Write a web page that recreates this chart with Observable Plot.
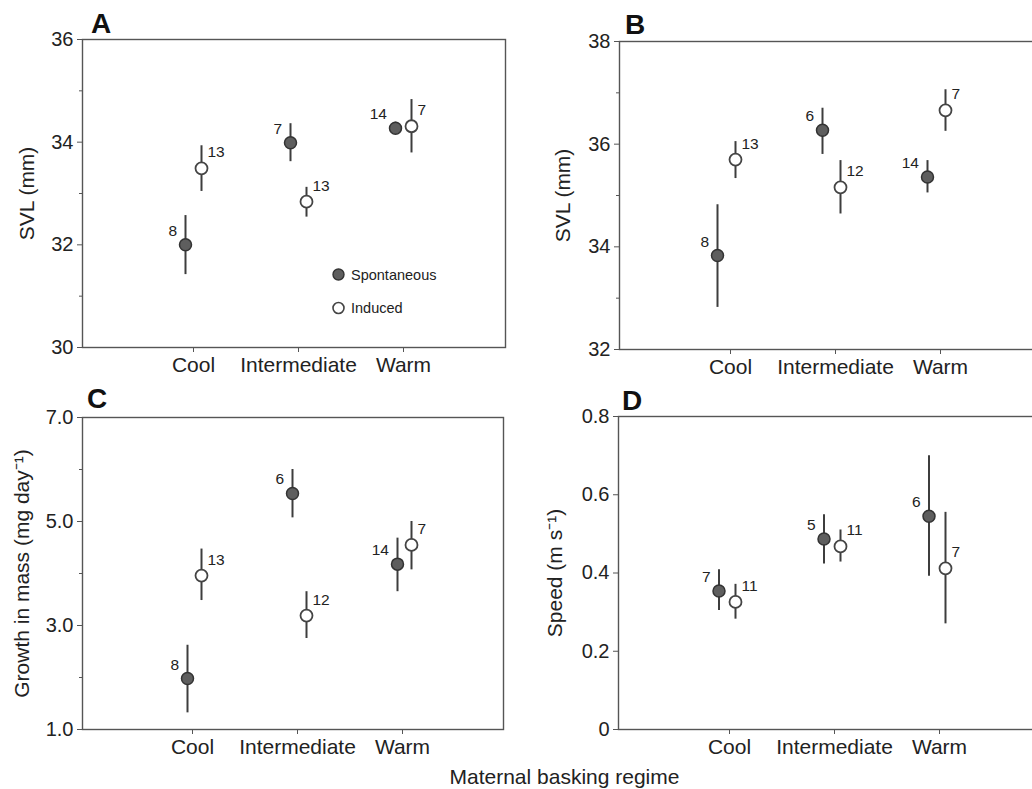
<!DOCTYPE html>
<html>
<head>
<meta charset="utf-8">
<script src="https://cdn.jsdelivr.net/npm/d3@7"></script>
<script src="https://cdn.jsdelivr.net/npm/@observablehq/plot@0.6"></script>
<style>
  html, body { margin: 0; padding: 0; background: #fff; }
  #wrap { position: relative; width: 1032px; height: 789px; overflow: hidden; background: #fff;
          font-family: "Liberation Sans", Arial, Helvetica, sans-serif; color: #222; }
  .pane { position: absolute; width: 520px; }
  .pane svg { max-width: none; display: block; }
  #overlay { position: absolute; left: 0; top: 0; pointer-events: none; }
</style>
</head>
<body>
<div id="wrap">
  <div class="pane" id="pA" style="left:0px; top:0px;"></div>
  <div class="pane" id="pB" style="left:537px; top:2px;"></div>
  <div class="pane" id="pC" style="left:0px; top:378px;"></div>
  <div class="pane" id="pD" style="left:536px; top:377px;"></div>
  <svg id="overlay" width="1032" height="789"
       font-family='"Liberation Sans", Arial, Helvetica, sans-serif' fill="#222">
    <text x="91" y="33" font-size="28" font-weight="bold" fill="#111">A</text>
    <text x="625" y="34" font-size="28" font-weight="bold" fill="#111">B</text>
    <text x="87" y="408" font-size="28" font-weight="bold" fill="#111">C</text>
    <text x="622" y="410" font-size="28" font-weight="bold" fill="#111">D</text>
    <circle cx="338.5" cy="274.5" r="5.5" fill="#5e5e5e" stroke="#333" stroke-width="1.4"></circle>
    <text x="351" y="279.5" font-size="14.5">Spontaneous</text>
    <circle cx="338.5" cy="308" r="5.5" fill="#fff" stroke="#444" stroke-width="1.6"></circle>
    <text x="351" y="313" font-size="14.5">Induced</text>
    <text x="564.5" y="784" font-size="21" text-anchor="middle">Maternal basking regime</text>
  </svg>
</div>
<script>
// ---- categories ----
const regimes = ["Cool", "Intermediate", "Warm"];
const groups = ["Spontaneous", "Induced"];

// ---- Panel A: SVL (mm) ----
const A_spont_mean = [32.00, 33.99, 34.27];
const A_spont_lo   = [31.42, 33.62, 34.15];
const A_spont_hi   = [32.57, 34.36, 34.39];
const A_spont_n    = [8, 7, 14];
const A_ind_mean   = [33.49, 32.84, 34.31];
const A_ind_lo     = [33.04, 32.54, 33.79];
const A_ind_hi     = [33.93, 33.12, 34.83];
const A_ind_n      = [13, 13, 7];
const A_ticks = [30, 32, 34, 36];
const A_minor = [31, 33, 35];

// ---- Panel B: SVL (mm) ----
const B_spont_mean = [33.83, 36.27, 35.36];
const B_spont_lo   = [32.82, 35.80, 35.05];
const B_spont_hi   = [34.82, 36.70, 35.68];
const B_spont_n    = [8, 6, 14];
const B_ind_mean   = [35.70, 35.16, 36.66];
const B_ind_lo     = [35.33, 34.64, 36.25];
const B_ind_hi     = [36.05, 35.68, 37.06];
const B_ind_n      = [13, 12, 7];
const B_ticks = [32, 34, 36, 38];
const B_minor = [33, 35, 37];

// ---- Panel C: Growth in mass (mg day-1) ----
const C_spont_mean = [1.98, 5.54, 4.18];
const C_spont_lo   = [1.32, 5.07, 3.65];
const C_spont_hi   = [2.62, 6.00, 4.68];
const C_spont_n    = [8, 6, 14];
const C_ind_mean   = [3.96, 3.19, 4.55];
const C_ind_lo     = [3.48, 2.75, 4.07];
const C_ind_hi     = [4.47, 3.65, 5.00];
const C_ind_n      = [13, 12, 7];
const C_ticks = [1, 3, 5, 7];
const C_minor = [2, 4, 6];

// ---- Panel D: Speed (m s-1) ----
const D_spont_mean = [0.354, 0.487, 0.545];
const D_spont_lo   = [0.304, 0.423, 0.392];
const D_spont_hi   = [0.408, 0.549, 0.700];
const D_spont_n    = [7, 5, 6];
const D_ind_mean   = [0.326, 0.468, 0.412];
const D_ind_lo     = [0.282, 0.428, 0.270];
const D_ind_hi     = [0.371, 0.510, 0.555];
const D_ind_n      = [11, 11, 7];
const D_ticks = [0, 0.2, 0.4, 0.6, 0.8];
const D_minor = [];

const FONT = '"Liberation Sans", Arial, Helvetica, sans-serif';

function rows(group, mean, lo, hi, n) {
  return regimes.map((r, i) => ({regime: r, group, mean: mean[i], lo: lo[i], hi: hi[i], n: n[i]}));
}

function panel(cfg) {
  const S = rows(groups[0], cfg.s[0], cfg.s[1], cfg.s[2], cfg.s[3]);
  const I = rows(groups[1], cfg.i[0], cfg.i[1], cfg.i[2], cfg.i[3]);
  const [dS, dI] = cfg.dx;
  const marks = [
    Plot.frame({stroke: "#555", strokeWidth: 1.4}),
    Plot.axisY(cfg.ticks, {tickSize: 5, tickPadding: 4, fontSize: 20, tickFormat: cfg.fmt,
                           stroke: "#555", fill: "#222", label: null}),
    Plot.axisX({tickSize: 5, tickPadding: 5, fontSize: 21, stroke: "#555", fill: "#222", label: null}),
    Plot.text([cfg.ylabel], {frameAnchor: "left", textAnchor: "middle", rotate: -90, dx: cfg.ldx,
                             fontSize: 21, fill: "#222"}),
    Plot.ruleX(S, {x: "regime", y1: "lo", y2: "hi", dx: dS, stroke: "#3d3d3d", strokeWidth: 2}),
    Plot.ruleX(I, {x: "regime", y1: "lo", y2: "hi", dx: dI, stroke: "#3d3d3d", strokeWidth: 2}),
    Plot.dot(S, {x: "regime", y: "mean", dx: dS, r: 6, fill: "#5e5e5e", stroke: "#333", strokeWidth: 1.5}),
    Plot.dot(I, {x: "regime", y: "mean", dx: dI, r: 6, fill: "#fff", stroke: "#444", strokeWidth: 1.8}),
    Plot.text(S, {x: "regime", y: "mean", text: d => String(d.n), dx: dS - 8.5, dy: -14,
                  textAnchor: "end", fontSize: 15.5, fill: "#222"}),
    Plot.text(I, {x: "regime", y: "mean", text: d => String(d.n), dx: dI + 6, dy: -16,
                  textAnchor: "start", fontSize: 15.5, fill: "#222"})
  ];
  if (cfg.minor.length) {
    marks.splice(2, 0, Plot.axisY(cfg.minor, {tickSize: 3, tickFormat: () => "", stroke: "#555", label: null}));
  }
  return Plot.plot({
    width: 520, height: cfg.height,
    marginLeft: 82, marginRight: cfg.mr, marginTop: 39, marginBottom: 38,
    style: {fontFamily: FONT, color: "#222", background: "transparent", overflow: "visible"},
    x: {type: "point", domain: regimes, padding: 1, align: 0.52, label: null},
    y: {domain: cfg.domain, label: null},
    marks
  });
}

const intFmt = d3.format("d");

document.getElementById("pA").append(panel({
  height: 385, mr: 15, domain: [30, 36], ticks: A_ticks, minor: A_minor, fmt: intFmt,
  ylabel: "SVL (mm)", ldx: -55, dx: [-8, 8],
  s: [A_spont_mean, A_spont_lo, A_spont_hi, A_spont_n],
  i: [A_ind_mean, A_ind_lo, A_ind_hi, A_ind_n]
}));
document.getElementById("pB").append(panel({
  height: 385, mr: 15, domain: [32, 38], ticks: B_ticks, minor: B_minor, fmt: intFmt,
  ylabel: "SVL (mm)", ldx: -56, dx: [-13, 5],
  s: [B_spont_mean, B_spont_lo, B_spont_hi, B_spont_n],
  i: [B_ind_mean, B_ind_lo, B_ind_hi, B_ind_n]
}));
document.getElementById("pC").append(panel({
  height: 389, mr: 17, domain: [1, 7], ticks: C_ticks, minor: C_minor, fmt: d3.format(".1f"),
  ylabel: "Growth in mass (mg day\u207B\u00B9)", ldx: -60, dx: [-5, 9],
  s: [C_spont_mean, C_spont_lo, C_spont_hi, C_spont_n],
  i: [C_ind_mean, C_ind_lo, C_ind_hi, C_ind_n]
}));
document.getElementById("pD").append(panel({
  height: 390, mr: 15, domain: [0, 0.8], ticks: D_ticks, minor: D_minor,
  fmt: d => d === 0 ? "0" : d.toFixed(1),
  ylabel: "Speed (m s\u207B\u00B9)", ldx: -63, dx: [-10.5, 6],
  s: [D_spont_mean, D_spont_lo, D_spont_hi, D_spont_n],
  i: [D_ind_mean, D_ind_lo, D_ind_hi, D_ind_n]
}));
</script>
</body>
</html>
